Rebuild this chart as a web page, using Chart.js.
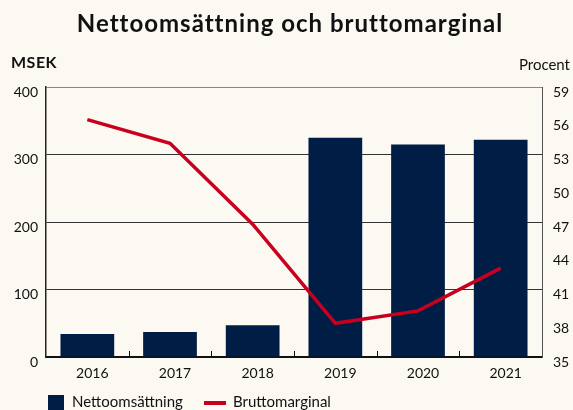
<!DOCTYPE html>
<html>
<head>
<meta charset="utf-8">
<script src="https://cdn.jsdelivr.net/npm/chart.js@4"></script>
<style>
  html, body { margin: 0; padding: 0; background: #fcf8f2; }
  #wrap { position: relative; width: 573px; height: 410px; overflow: hidden; }
</style>
</head>
<body>
<div id="wrap"><canvas id="chart" width="573" height="410"></canvas></div>
<script>
// Data
const years = ['2016', '2017', '2018', '2019', '2020', '2021'];
const nettoomsattning = [34, 37, 47, 325, 315, 322];   // MSEK
const bruttomarginal = [56.1, 54.0, 46.8, 38.0, 39.1, 42.9]; // procent

const NAVY = '#001e45';
const RED = '#c8001e';
const INK = '#111111';
const FONT = 'Lato, "Open Sans", sans-serif';

// Titel, axeltitlar, förklaring och små streck vid kategorigränser
const decor = {
    id: 'decor',
    afterDraw(chart) {
        const ctx = chart.ctx;
        const area = chart.chartArea;
        const x = chart.scales.x;
        ctx.save();

        // streck uppåt från x-axeln mellan kategorierna
        ctx.strokeStyle = INK;
        ctx.lineWidth = 1;
        for (let i = 1; i < years.length; i++) {
            const px = Math.round((x.getPixelForValue(i - 1) + x.getPixelForValue(i)) / 2) + 0.5;
            ctx.beginPath();
            ctx.moveTo(px, area.bottom);
            ctx.lineTo(px, area.bottom - 6);
            ctx.stroke();
        }

        ctx.fillStyle = INK;
        ctx.textBaseline = 'alphabetic';

        ctx.font = 'bold 24px ' + FONT;
        ctx.textAlign = 'center';
        ctx.letterSpacing = '1px';
        ctx.fillText('Nettoomsättning och bruttomarginal', 290, 31.5);

        ctx.font = 'bold 16px ' + FONT;
        ctx.textAlign = 'left';
        ctx.letterSpacing = '0.5px';
        ctx.fillText('MSEK', 11, 67.5);
        ctx.letterSpacing = '0px';

        ctx.font = '15px ' + FONT;
        ctx.textAlign = 'right';
        ctx.fillText('Procent', 570, 70);

        // förklaring
        ctx.textAlign = 'left';
        ctx.font = '15px ' + FONT;
        ctx.fillStyle = NAVY;
        ctx.fillRect(48, 395, 16, 16);
        ctx.fillStyle = INK;
        ctx.fillText('Nettoomsättning', 72, 407);
        ctx.strokeStyle = RED;
        ctx.lineWidth = 4;
        ctx.beginPath();
        ctx.moveTo(204, 403);
        ctx.lineTo(226, 403);
        ctx.stroke();
        ctx.fillText('Bruttomarginal', 233, 407);

        ctx.restore();
    }
};

new Chart(document.getElementById('chart'), {
    type: 'bar',
    data: {
        labels: years,
        datasets: [
            {
                type: 'line',
                label: 'Bruttomarginal',
                data: bruttomarginal,
                yAxisID: 'y1',
                borderColor: RED,
                borderWidth: 3.5,
                pointRadius: 0,
                tension: 0,
                order: 0
            },
            {
                label: 'Nettoomsättning',
                data: nettoomsattning,
                yAxisID: 'y',
                backgroundColor: NAVY,
                categoryPercentage: 1,
                barPercentage: 0.65,
                order: 1
            }
        ]
    },
    options: {
        responsive: false,
        animation: false,
        devicePixelRatio: 1,
        layout: { padding: { top: 87, bottom: 0, left: 0, right: 0 } },
        plugins: {
            legend: { display: false },
            tooltip: { enabled: false }
        },
        scales: {
            x: {
                grid: { display: false, drawTicks: false },
                border: { display: true, color: INK, width: 2 },
                ticks: {
                    color: INK,
                    font: { family: FONT, size: 14 },
                    padding: 8,
                    labelOffset: 5
                },
                afterFit(s) { s.height = 53; }
            },
            y: {
                position: 'left',
                min: 0,
                max: 400,
                ticks: {
                    stepSize: 100,
                    color: INK,
                    font: { family: FONT, size: 14 },
                    padding: 8,
                    labelOffset: 5
                },
                grid: {
                    drawTicks: false,
                    color: (c) => c.tick && c.tick.value === 400 ? '#8a8680' : '#333333',
                    lineWidth: 1
                },
                border: { display: true, color: '#222222', width: 1.5 },
                afterFit(s) { s.width = 46; }
            },
            y1: {
                position: 'right',
                min: 35,
                max: 59,
                ticks: {
                    stepSize: 3,
                    color: INK,
                    font: { family: FONT, size: 14 },
                    padding: 11,
                    labelOffset: 5
                },
                grid: { drawOnChartArea: false, drawTicks: false },
                border: { display: true, color: '#555555', width: 1 },
                afterFit(s) { s.width = 31; }
            }
        }
    },
    plugins: [decor]
});
</script>
</body>
</html>
